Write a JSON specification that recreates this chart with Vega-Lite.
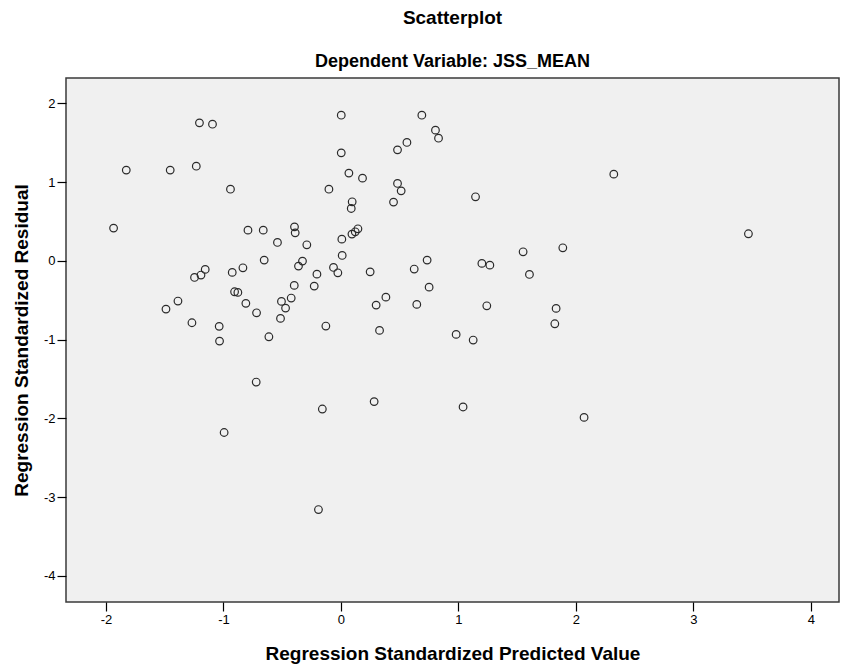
{
  "$schema": "https://vega.github.io/schema/vega-lite/v6.json",
  "width": 773,
  "height": 524,
  "autosize": {"type": "none"},
  "padding": {"left": 66, "top": 78, "right": 2, "bottom": 66},
  "background": "white",
  "title": {
    "text": "Scatterplot",
    "subtitle": "Dependent Variable: JSS_MEAN",
    "anchor": "middle",
    "font": "Liberation Sans",
    "fontSize": 19,
    "fontWeight": "bold",
    "color": "#000000",
    "subtitleFont": "Liberation Sans",
    "subtitleFontSize": 18,
    "subtitleFontWeight": "bold",
    "subtitleColor": "#000000",
    "subtitlePadding": 25,
    "offset": 7
  },
  "config": {
    "view": {"fill": "#f0f0f0", "stroke": "#3a3a3a", "strokeWidth": 1.5}
  },
  "data": {
    "values": [
      {"predicted": -1.204, "residual": 1.751},
      {"predicted": -1.093, "residual": 1.734},
      {"predicted": 0.003, "residual": 1.848},
      {"predicted": -1.827, "residual": 1.151},
      {"predicted": -1.453, "residual": 1.151},
      {"predicted": -1.231, "residual": 1.201},
      {"predicted": 0.003, "residual": 1.370},
      {"predicted": -0.940, "residual": 0.909},
      {"predicted": 0.068, "residual": 1.113},
      {"predicted": -0.102, "residual": 0.909},
      {"predicted": 0.096, "residual": 0.749},
      {"predicted": 0.088, "residual": 0.664},
      {"predicted": -1.935, "residual": 0.415},
      {"predicted": -0.791, "residual": 0.389},
      {"predicted": -0.661, "residual": 0.389},
      {"predicted": -0.395, "residual": 0.431},
      {"predicted": -0.389, "residual": 0.355},
      {"predicted": -0.540, "residual": 0.233},
      {"predicted": -0.290, "residual": 0.203},
      {"predicted": 0.008, "residual": 0.275},
      {"predicted": 0.094, "residual": 0.339},
      {"predicted": 0.122, "residual": 0.368},
      {"predicted": 0.145, "residual": 0.406},
      {"predicted": 0.011, "residual": 0.068},
      {"predicted": -0.653, "residual": 0.009},
      {"predicted": -0.327, "residual": -0.004},
      {"predicted": -0.361, "residual": -0.067},
      {"predicted": -0.204, "residual": -0.169},
      {"predicted": -0.063, "residual": -0.084},
      {"predicted": -0.026, "residual": -0.152},
      {"predicted": -1.155, "residual": -0.109},
      {"predicted": -1.191, "residual": -0.181},
      {"predicted": -1.246, "residual": -0.211},
      {"predicted": -0.925, "residual": -0.147},
      {"predicted": -0.834, "residual": -0.089},
      {"predicted": 0.689, "residual": 1.848},
      {"predicted": 0.805, "residual": 1.658},
      {"predicted": 0.831, "residual": 1.556},
      {"predicted": 0.562, "residual": 1.502},
      {"predicted": 0.482, "residual": 1.408},
      {"predicted": 0.184, "residual": 1.049},
      {"predicted": 0.482, "residual": 0.982},
      {"predicted": 0.513, "residual": 0.888},
      {"predicted": 0.448, "residual": 0.745},
      {"predicted": 1.146, "residual": 0.812},
      {"predicted": 1.551, "residual": 0.114},
      {"predicted": 1.889, "residual": 0.165},
      {"predicted": 1.200, "residual": -0.033},
      {"predicted": 1.268, "residual": -0.055},
      {"predicted": 1.605, "residual": -0.173},
      {"predicted": 0.249, "residual": -0.140},
      {"predicted": 0.624, "residual": -0.105},
      {"predicted": 0.734, "residual": 0.009},
      {"predicted": 2.323, "residual": 1.100},
      {"predicted": 3.469, "residual": 0.343},
      {"predicted": 1.832, "residual": -0.604},
      {"predicted": 1.821, "residual": -0.799},
      {"predicted": -0.397, "residual": -0.312},
      {"predicted": -0.227, "residual": -0.321},
      {"predicted": -0.905, "residual": -0.393},
      {"predicted": -0.877, "residual": -0.401},
      {"predicted": -0.809, "residual": -0.540},
      {"predicted": -0.718, "residual": -0.660},
      {"predicted": -0.506, "residual": -0.515},
      {"predicted": -0.471, "residual": -0.600},
      {"predicted": -0.423, "residual": -0.473},
      {"predicted": -0.514, "residual": -0.731},
      {"predicted": -1.387, "residual": -0.511},
      {"predicted": -1.489, "residual": -0.613},
      {"predicted": -1.268, "residual": -0.786},
      {"predicted": -1.036, "residual": -0.832},
      {"predicted": -1.033, "residual": -1.019},
      {"predicted": -0.613, "residual": -0.964},
      {"predicted": -0.128, "residual": -0.828},
      {"predicted": -0.721, "residual": -1.539},
      {"predicted": 0.300, "residual": -0.562},
      {"predicted": 0.383, "residual": -0.461},
      {"predicted": 0.646, "residual": -0.553},
      {"predicted": 0.751, "residual": -0.334},
      {"predicted": 1.242, "residual": -0.571},
      {"predicted": 0.329, "residual": -0.883},
      {"predicted": 0.981, "residual": -0.934},
      {"predicted": 1.126, "residual": -1.006},
      {"predicted": -0.158, "residual": -1.881},
      {"predicted": 0.283, "residual": -1.787},
      {"predicted": 1.040, "residual": -1.855},
      {"predicted": 2.070, "residual": -1.987},
      {"predicted": -0.994, "residual": -2.179},
      {"predicted": -0.191, "residual": -3.157}
    ]
  },
  "mark": {
    "type": "point",
    "shape": "circle",
    "filled": false,
    "size": 58,
    "stroke": "#2a2a2a",
    "strokeWidth": 1.2,
    "opacity": 1
  },
  "encoding": {
    "x": {
      "field": "predicted",
      "type": "quantitative",
      "scale": {"domain": [-2.34, 4.24], "nice": false, "zero": false},
      "axis": {
        "values": [-2, -1, 0, 1, 2, 3, 4],
        "labelExpr": "datum.value < 0 ? '-' + abs(datum.value) : '' + datum.value",
        "title": "Regression Standardized Predicted Value",
        "grid": false,
        "domain": false,
        "tickSize": 9,
        "tickWidth": 1.2,
        "tickColor": "#000000",
        "labelColor": "#000000",
        "labelFont": "Liberation Sans",
        "labelFontSize": 13,
        "labelPadding": 2,
        "titleFont": "Liberation Sans",
        "titleFontSize": 19,
        "titleFontWeight": "bold",
        "titleColor": "#000000",
        "titleLimit": 1000,
        "titlePadding": 18
      }
    },
    "y": {
      "field": "residual",
      "type": "quantitative",
      "scale": {"domain": [-4.33, 2.32], "nice": false, "zero": false},
      "axis": {
        "values": [-4, -3, -2, -1, 0, 1, 2],
        "labelExpr": "datum.value < 0 ? '-' + abs(datum.value) : '' + datum.value",
        "title": "Regression Standardized Residual",
        "grid": false,
        "domain": false,
        "tickSize": 9,
        "tickWidth": 1.2,
        "tickColor": "#000000",
        "labelColor": "#000000",
        "labelFont": "Liberation Sans",
        "labelFontSize": 13,
        "labelPadding": 2,
        "titleFont": "Liberation Sans",
        "titleFontSize": 19,
        "titleFontWeight": "bold",
        "titleColor": "#000000",
        "titleLimit": 1000,
        "titlePadding": 12
      }
    }
  }
}
